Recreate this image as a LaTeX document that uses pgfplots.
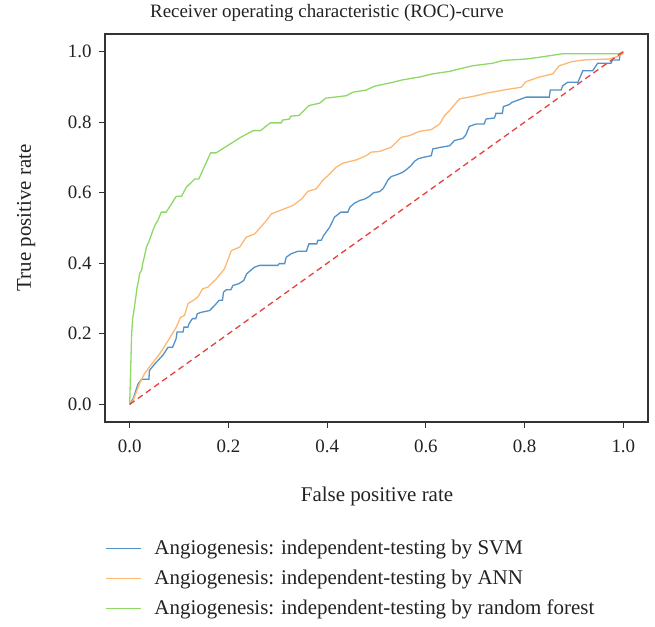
\documentclass[border=0pt]{standalone}
\usepackage{fontspec}
\setmainfont{Liberation Serif}
\usepackage{pgfplots}
\pgfplotsset{compat=1.18}
\definecolor{svmblue}{HTML}{5392C8}
\definecolor{annorange}{HTML}{FDB873}
\definecolor{rfgreen}{HTML}{8FD866}
\definecolor{diagred}{HTML}{E8403C}
\definecolor{txt}{HTML}{222222}
\definecolor{frame}{HTML}{333333}

\begin{document}
\begin{tikzpicture}[x=1bp,y=1bp]
\begin{axis}[
    scale only axis,
    width=543bp,
    height=388bp,
    xmin=-0.05, xmax=1.05,
    ymin=-0.05, ymax=1.05,
    xtick={0,0.2,0.4,0.6,0.8,1.0},
    ytick={0,0.2,0.4,0.6,0.8,1.0},
    xticklabel style={/pgf/number format/.cd,fixed,fixed zerofill,precision=1,/tikz/.cd,yshift=-8bp},
    yticklabel style={/pgf/number format/.cd,fixed,fixed zerofill,precision=1,/tikz/.cd,xshift=-4bp},
    /pgf/number format/assume math mode=true,
    ticklabel style={font=\fontsize{19}{21}\selectfont,txt},
    xtick pos=bottom, ytick pos=left,
    tick align=outside,
    major tick length=6bp,
    tick style={frame,line width=1pt},
    axis line style={frame,line width=1.2pt},
    legend style={
      at={(0.0,-0.299)}, anchor=north west,
      draw=none, fill=none, inner sep=0pt,
      font=\fontsize{21}{23}\selectfont,
      text=txt,
      row sep=10bp,
      /tikz/every odd column/.append style={column sep=11bp},
    },
    legend cell align={left},
    legend image code/.code={\draw[#1] (0bp,0bp) -- (35bp,0bp);},
    every axis plot/.append style={line width=1.3bp},
]
\addplot[svmblue] coordinates {
(0,0) (0.007,0.016) (0.017,0.058) (0.024,0.071) (0.039,0.071) (0.040,0.096) (0.051,0.115) (0.067,0.139) (0.078,0.162) (0.087,0.162) (0.094,0.186) (0.096,0.205) (0.108,0.205) (0.110,0.219) (0.118,0.219) (0.120,0.228) (0.127,0.243) (0.134,0.243) (0.137,0.257) (0.145,0.261) (0.162,0.266) (0.169,0.276) (0.175,0.285) (0.181,0.295) (0.188,0.295) (0.190,0.318) (0.196,0.325) (0.205,0.325) (0.209,0.337) (0.221,0.342) (0.231,0.351) (0.237,0.370) (0.246,0.381) (0.253,0.389) (0.263,0.394) (0.300,0.394) (0.303,0.399) (0.314,0.399) (0.317,0.417) (0.327,0.427) (0.341,0.434) (0.358,0.434) (0.363,0.455) (0.379,0.455) (0.381,0.465) (0.388,0.465) (0.393,0.479) (0.405,0.502) (0.415,0.531) (0.428,0.545) (0.442,0.545) (0.446,0.559) (0.455,0.570) (0.466,0.578) (0.476,0.582) (0.486,0.590) (0.494,0.600) (0.506,0.603) (0.513,0.611) (0.519,0.625) (0.523,0.636) (0.530,0.646) (0.543,0.652) (0.553,0.658) (0.560,0.665) (0.570,0.677) (0.577,0.689) (0.584,0.696) (0.594,0.700) (0.611,0.705) (0.614,0.724) (0.631,0.729) (0.648,0.733) (0.658,0.748) (0.675,0.754) (0.681,0.764) (0.688,0.788) (0.702,0.795) (0.718,0.795) (0.722,0.809) (0.739,0.812) (0.742,0.825) (0.755,0.825) (0.757,0.844) (0.769,0.850) (0.774,0.856) (0.803,0.871) (0.850,0.871) (0.852,0.891) (0.874,0.891) (0.877,0.903) (0.887,0.913) (0.908,0.913) (0.918,0.946) (0.938,0.946) (0.948,0.967) (0.975,0.967) (0.978,0.976) (0.992,0.976) (0.993,0.989) (1,1)
};
\addplot[annorange] coordinates {
(0,0) (0.007,0.011) (0.02,0.059) (0.030,0.087) (0.040,0.106) (0.061,0.144) (0.078,0.181) (0.0945,0.219) (0.103,0.247) (0.111,0.252) (0.118,0.285) (0.138,0.304) (0.148,0.328) (0.158,0.332) (0.175,0.355) (0.192,0.384) (0.206,0.436) (0.223,0.446) (0.236,0.474) (0.253,0.483) (0.277,0.521) (0.287,0.540) (0.331,0.564) (0.348,0.582) (0.361,0.604) (0.378,0.611) (0.391,0.635) (0.405,0.653) (0.418,0.672) (0.432,0.684) (0.459,0.693) (0.479,0.705) (0.489,0.715) (0.506,0.717) (0.530,0.729) (0.550,0.757) (0.567,0.762) (0.587,0.774) (0.611,0.779) (0.628,0.795) (0.638,0.819) (0.648,0.833) (0.668,0.866) (0.702,0.875) (0.722,0.882) (0.769,0.894) (0.793,0.899) (0.803,0.915) (0.830,0.928) (0.857,0.937) (0.870,0.960) (0.897,0.972) (0.924,0.977) (0.972,0.979) (0.988,0.986) (0.999,0.994) (1,1)
};
\addplot[rfgreen] coordinates {
(0,0) (0.002,0.10) (0.004,0.20) (0.006,0.244) (0.008,0.26) (0.0115,0.295) (0.013,0.31) (0.015,0.332) (0.018,0.35) (0.02,0.371) (0.024,0.38) (0.027,0.403) (0.030,0.42) (0.034,0.446) (0.040,0.465) (0.047,0.493) (0.052,0.51) (0.057,0.521) (0.064,0.545) (0.074,0.545) (0.0945,0.590) (0.105,0.590) (0.115,0.616) (0.132,0.639) (0.140,0.639) (0.164,0.713) (0.175,0.713) (0.200,0.735) (0.226,0.758) (0.250,0.776) (0.265,0.776) (0.285,0.798) (0.307,0.798) (0.310,0.806) (0.324,0.809) (0.326,0.817) (0.343,0.819) (0.363,0.847) (0.385,0.854) (0.397,0.868) (0.415,0.871) (0.439,0.875) (0.452,0.885) (0.479,0.891) (0.496,0.902) (0.533,0.913) (0.553,0.920) (0.587,0.928) (0.614,0.937) (0.648,0.944) (0.668,0.951) (0.695,0.960) (0.735,0.967) (0.756,0.975) (0.803,0.979) (0.830,0.984) (0.877,0.994) (0.992,0.994) (1,1)
};
\addplot[diagred, dash pattern=on 6bp off 4bp, forget plot] coordinates {(0,0) (1,1)};
\legend{Angiogenesis: independent-testing by SVM,
        Angiogenesis: independent-testing by ANN,
        Angiogenesis: independent-testing by random forest}
\end{axis}
\begin{scope}[shift={(current axis.south west)}]
  \path (-105,-205) rectangle (550,422);
  \node[anchor=base, font=\fontsize{19}{21}\selectfont, text=txt] at (222,404) {Receiver operating characteristic (ROC)-curve};
  \node[anchor=base, font=\fontsize{21}{23}\selectfont, text=txt] at (272,-80) {False positive rate};
  \node[anchor=base, rotate=90, font=\fontsize{21}{23}\selectfont, text=txt] at (-74,204) {True positive rate};
\end{scope}
\end{tikzpicture}
\end{document}
